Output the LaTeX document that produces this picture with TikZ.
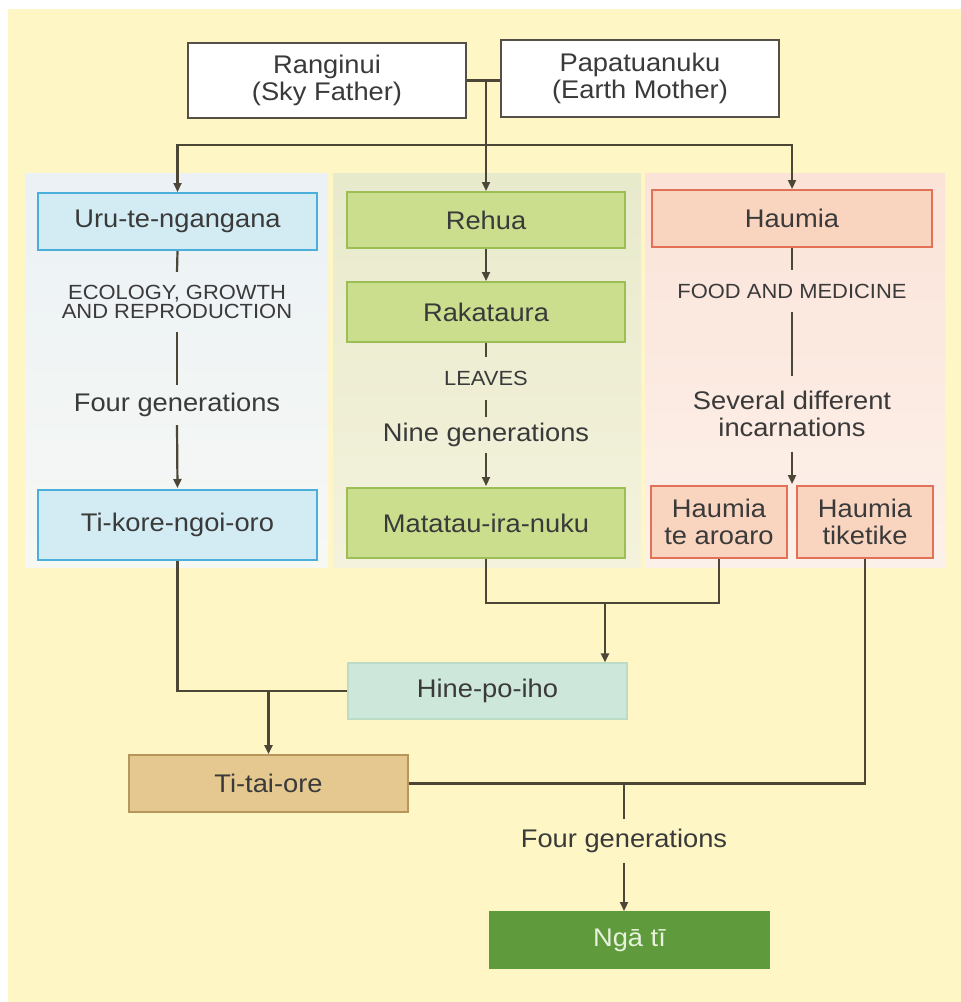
\documentclass[tikz,border=0pt]{standalone}
\usepackage{fontspec}
\setmainfont{Liberation Sans}[FakeStretch=1.07]
\usetikzlibrary{arrows.meta,calc}
\definecolor{bgyellow}{HTML}{FEF6C4}
\definecolor{lineol}{HTML}{4B4636}
\definecolor{txt}{HTML}{3A3A3A}
\definecolor{lpTop}{HTML}{EBF1F5}
\definecolor{lpBot}{HTML}{F6F8F4}
\definecolor{mpTop}{HTML}{E8EACC}
\definecolor{mpBot}{HTML}{F4F2DC}
\definecolor{rpTop}{HTML}{FBE3D8}
\definecolor{rpBot}{HTML}{FCF1EA}
\definecolor{blueFill}{HTML}{D3ECF4}
\definecolor{blueLine}{HTML}{4BAFDB}
\definecolor{greenFill}{HTML}{CBDE8E}
\definecolor{greenLine}{HTML}{9DBE55}
\definecolor{redFill}{HTML}{F9D4BF}
\definecolor{redLine}{HTML}{E27158}
\definecolor{tealFill}{HTML}{CDE7DB}
\definecolor{tealLine}{HTML}{BCDCC8}
\definecolor{tanFill}{HTML}{E4C890}
\definecolor{tanLine}{HTML}{B6965A}
\definecolor{ngaFill}{HTML}{5F9B3C}
\definecolor{ngaText}{HTML}{E8F1DC}
\definecolor{topLine}{HTML}{555047}
\newcommand{\mainsz}{\fontsize{25.5}{27}\selectfont}
\newcommand{\capsz}{\fontsize{20.5}{19.5}\selectfont}
\tikzset{
  box/.style={draw, line width=2pt, inner sep=0pt, align=center, text=txt, font=\mainsz},
  topbox/.style={box, fill=white, draw=topLine, minimum width=278pt},
  bluebox/.style={box, fill=blueFill, draw=blueLine, minimum width=279pt},
  greenbox/.style={box, fill=greenFill, draw=greenLine, minimum width=278pt},
  redbox/.style={box, fill=redFill, draw=redLine},
  lab/.style={inner sep=0pt, align=center, text=txt, font=\mainsz},
  caplab/.style={inner sep=0pt, align=center, text=txt, font=\capsz},
  conn/.style={draw=lineol, line width=2.2pt},
  arr/.style={conn, -{Triangle[length=9pt,width=8pt]}}
}
\begin{document}
\begin{tikzpicture}[x=1pt,y=-1pt]
\fill[white] (0,0) rectangle (961,1002);
\fill[bgyellow] (8,9) rectangle (961,1002);
\useasboundingbox (0,0) rectangle (961,1002);
% panels
\shade[top color=lpTop, bottom color=lpBot] (25,173) rectangle (328,567);
\shade[top color=mpTop, bottom color=mpBot] (333,173) rectangle (641,567);
\shade[top color=rpTop, bottom color=rpBot] (645,173) rectangle (945,567);

% top boxes
\node[topbox, minimum height=75pt] (rang) at (327,80.5) {Ranginui\\(Sky Father)};
\node[topbox, minimum height=77pt] (papa) at (640,78.5) {Papatuanuku\\(Earth Mother)};

% column boxes
\node[bluebox, minimum height=57pt] (uru) at (177.5,221.5) {Uru-te-ngangana};
\node[bluebox, minimum height=70pt] (tikore) at (177.5,525) {Ti-kore-ngoi-oro};
\node[greenbox, minimum height=56pt] (rehua) at (486,220) {Rehua};
\node[greenbox, minimum height=60pt] (raka) at (486,312) {Rakataura};
\node[greenbox, minimum height=70pt] (mata) at (486,523) {Matatau-ira-nuku};
\node[redbox, minimum width=280pt, minimum height=57pt] (haumia) at (792,218.5) {Haumia};
\node[redbox, minimum width=136pt, minimum height=72pt] (aroaro) at (719,522) {Haumia\\te aroaro};
\node[redbox, minimum width=136pt, minimum height=72pt] (tiketike) at (865,522) {Haumia\\tiketike};

% lower boxes
\node[box, fill=tealFill, draw=tealLine, line width=1.2pt, minimum width=279pt, minimum height=56pt] (hine) at (487.5,691) {Hine-po-iho};
\node[box, fill=tanFill, draw=tanLine, line width=1.6pt, minimum width=279pt, minimum height=57pt] (titai) at (268.5,783.5) {Ti-tai-ore};
\node[box, fill=ngaFill, draw=ngaFill, text=ngaText, minimum width=279pt, minimum height=56pt] (nga) at (629.5,940) {Ngā tī};

% labels
\node[caplab, minimum height=60pt] (eco) at (177,302) {ECOLOGY, GROWTH\\AND REPRODUCTION};
\node[lab, minimum height=40pt] (four1) at (177,405) {Four generations};
\node[caplab, minimum height=43pt] (leaves) at (486,378.5) {LEAVES};
\node[lab, minimum height=36pt] (nine) at (486,435) {Nine generations};
\node[caplab, minimum height=42pt] (food) at (792,291) {FOOD AND MEDICINE};
\node[lab, minimum height=75pt] (several) at (792,414) {Several different\\incarnations};
\node[lab, minimum height=44pt] (four2) at (624,841) {Four generations};

% top connectors
\coordinate (tj0) at (rehua.north |- rang.east);
\coordinate (bus) at (486,145);
\draw[conn] (rang.east) -- (rang.east -| papa.west);
\draw[arr] (tj0) -- (rehua.north);
\draw[arr] (bus) -| (uru.north);
\draw[arr] (bus) -| (haumia.north);

% left column
\draw[conn] (uru.south) -- (eco.north);
\draw[conn] (eco.south) -- (four1.north);
\draw[arr] (four1.south) -- ([yshift=1pt]tikore.north);

% middle column
\draw[arr] (rehua.south) -- (raka.north);
\draw[conn] (raka.south) -- (leaves.north);
\draw[conn] (leaves.south) -- (nine.north);
\draw[arr] (nine.south) -- ([yshift=1pt]mata.north);

% right column
\coordinate (split) at ($(aroaro.north east)!0.5!(tiketike.north west)$);
\draw[conn] (haumia.south) -- (food.north);
\draw[conn] (food.south) -- (several.north);
\draw[arr] (several.south) -- ([yshift=1pt]split);

% lower connectors
\draw[conn] (tikore.south) |- (hine.west);
\draw[arr] (titai.north |- hine.west) -- (titai.north);
\coordinate (mjoin) at (605,603);
\draw[conn] (mata.south) |- (mjoin) -| (aroaro.south);
\draw[arr] (mjoin) -- (mjoin |- hine.north);
\draw[conn] (tiketike.south) |- (titai.east);
\coordinate (tj) at (624,783.5);
\draw[conn] (tj) -- (four2.north);
\draw[arr] (four2.south) -- (four2.south |- nga.north);
\end{tikzpicture}
\end{document}
